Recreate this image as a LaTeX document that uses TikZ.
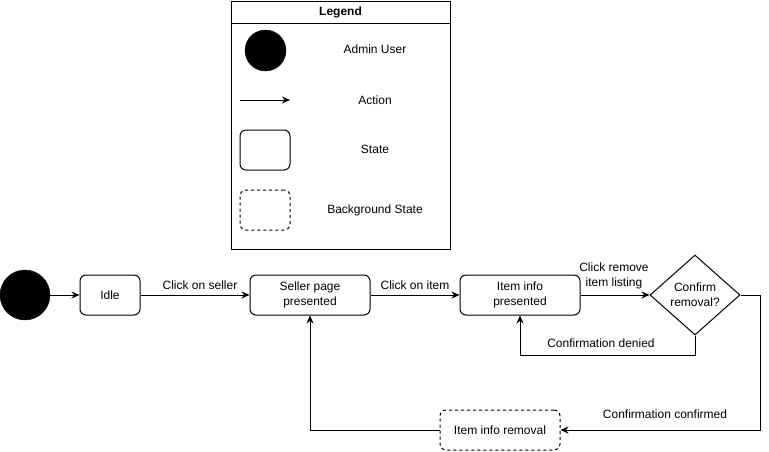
\documentclass[tikz,border=0pt]{standalone}
\usepackage{fontspec}
\setmainfont{Liberation Sans}
\usetikzlibrary{arrows.meta,shapes.geometric}
\tikzstyle{state}=[rectangle,rounded corners=6pt,draw=black,fill=white,minimum width=120pt,minimum height=40pt,inner sep=0pt,align=center,line width=1pt]
\tikzstyle{bgstate}=[state,dashed]
\tikzstyle{choice}=[diamond,draw=black,fill=white,minimum width=90pt,minimum height=80pt,inner sep=0pt,aspect=1.125,align=center,line width=1pt]
\tikzstyle{actor}=[circle,fill=black,draw=black,inner sep=0pt]
\tikzstyle{annot}=[align=center,inner sep=1pt]
\tikzstyle{action}=[-{Stealth[length=8pt,width=7pt]},line width=1pt]
\begin{document}
\begin{tikzpicture}[x=1pt,y=-1pt,font=\fontsize{12}{15}\selectfont]
	\useasboundingbox (0,0) rectangle (769,451);

	% legend
	\node[rectangle,draw=black,line width=1pt,minimum width=219pt,minimum height=248pt,inner sep=0pt](legend) at (340.5,125){};
	\node[rectangle,draw=black,line width=1pt,minimum width=219pt,minimum height=22pt,inner sep=0pt,font=\fontsize{12}{15}\selectfont\bfseries](legendtitle) at (340.5,12){Legend};
	\node[actor, minimum size=41pt](legendactor) at (265.5,50.5){};
	\coordinate (legendfrom) at (240,100);
	\coordinate (legendto) at (290,100);
	\draw[action] (legendfrom) -- (legendto);
	\node[state, minimum width=50pt](legendstate) at (265,150){};
	\node[bgstate, minimum width=50pt](legendbg) at (265,210){};
	\node[annot] (legendactorlabel) at (375,49){Admin User};
	\node[annot] (legendactionlabel) at (375,100){Action};
	\node[annot] (legendstatelabel) at (375,149){State};
	\node[annot] (legendbglabel) at (375,210){Background State};

	% states
	\node[actor, minimum size=50pt](admin) at (25,295){};
	\node[state, minimum width=60pt](idle) at (110,295){Idle};
	\node[state](seller) at (310,295){Seller page\\presented};
	\node[state](item) at (520,295){Item info\\presented};
	\node[choice](confirm) at (695,295){Confirm\\removal?};
	\node[bgstate](removal) at (500,430){Item info removal};

	% actions
	\draw[action] (admin) -- (idle);
	\draw[action] (idle) -- (seller);
	\draw[action] (seller) -- (item);
	\draw[action] (item) -- (confirm);
	\draw[action] (confirm.south) |- (520,355) -- (item.south);
	\draw[action] (confirm.east) -- (760,295) |- (removal.east);
	\draw[action] (removal.west) -| (seller.south);

	\node[annot] (sellerlabel) at (200,285){Click on seller};
	\node[annot] (itemlabel) at (415,285){Click on item};
	\node[annot] (removelabel) at (614,275.5){Click remove\\item listing};
	\node[annot] (deniedlabel) at (601,343){Confirmation denied};
	\node[annot] (confirmedlabel) at (665,414){Confirmation confirmed};
\end{tikzpicture}
\end{document}
